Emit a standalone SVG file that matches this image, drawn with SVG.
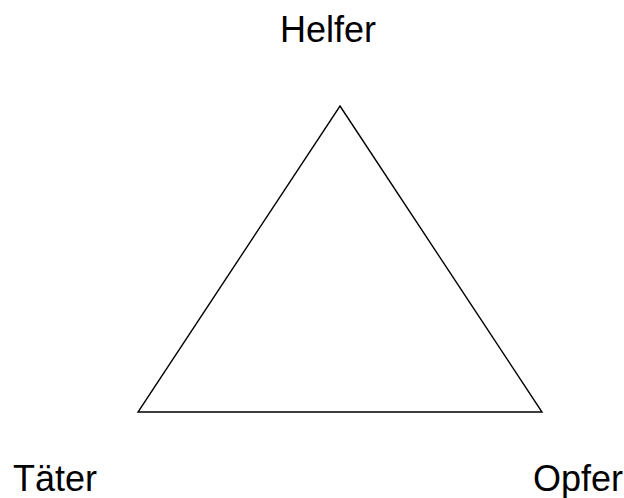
<svg xmlns="http://www.w3.org/2000/svg" width="624" height="498" viewBox="0 0 624 498">
<style>
.lbl{font-family:"Liberation Sans",Arial,sans-serif;font-size:36px;fill:#000}
.edge{fill:none;stroke:#000;stroke-width:1.4;stroke-linejoin:miter}
</style>
<rect width="624" height="498" fill="#fff"/>
<g id="connectors">
<polygon class="edge" points="340,106 542,412 138,412"/>
</g>
<g id="helfer"><text class="lbl" x="280" y="42">Helfer</text></g>
<g id="taeter"><text class="lbl" x="13" y="491">Täter</text></g>
<g id="opfer"><text class="lbl" x="533" y="491">Opfer</text></g>
</svg>
